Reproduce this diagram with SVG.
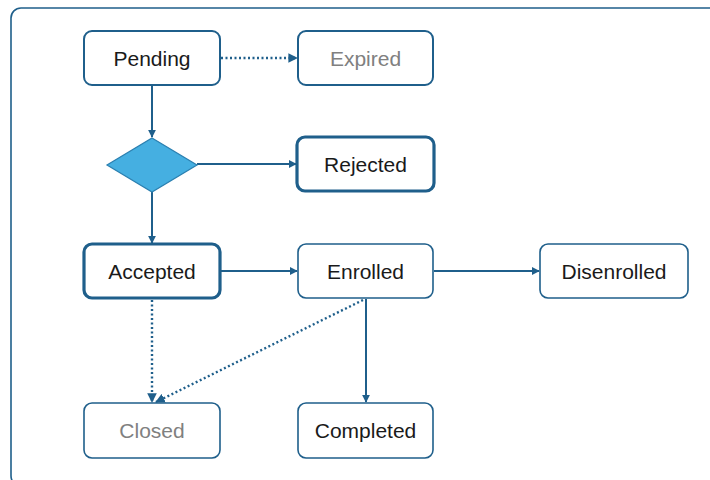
<svg xmlns="http://www.w3.org/2000/svg" width="710" height="480" viewBox="0 0 710 480">
<style>
.node{fill:#fff;stroke:#1f5f8b;stroke-width:2}
.thick{stroke-width:3.2}
.thin{stroke-width:1.6}
.lbl{font-family:"Liberation Sans",Arial,sans-serif;font-size:21px;fill:#1a1a1a;text-anchor:middle;dominant-baseline:central}
.gray{fill:#808080}
.c{fill:none;stroke:#1f5f8b;stroke-width:2}
.dot{stroke-dasharray:2 2.5;stroke-width:2.4}
</style>
<defs>
<marker id="ah" viewBox="0 0 10 10" refX="9" refY="5" markerWidth="4" markerHeight="4" orient="auto" markerUnits="strokeWidth">
<path d="M0,0 L10,5 L0,10 z" fill="#1f5f8b"/>
</marker>
</defs>
<rect x="11" y="8" width="740" height="478" rx="10" fill="none" stroke="#1f5f8b" stroke-width="1.6"/>
<g id="connectors">
<line class="c dot" x1="221" y1="58" x2="297" y2="58" marker-end="url(#ah)"/>
<line class="c" x1="152" y1="86" x2="152" y2="137" marker-end="url(#ah)"/>
<line class="c" x1="197" y1="164" x2="296" y2="164" marker-end="url(#ah)"/>
<line class="c" x1="152" y1="192" x2="152" y2="243" marker-end="url(#ah)"/>
<line class="c" x1="221" y1="271" x2="297" y2="271" marker-end="url(#ah)"/>
<line class="c" x1="434" y1="271" x2="539" y2="271" marker-end="url(#ah)"/>
<line class="c dot" x1="152" y1="300" x2="152" y2="402" marker-end="url(#ah)"/>
<line class="c dot" x1="363" y1="300" x2="156" y2="402" marker-end="url(#ah)"/>
<line class="c" x1="366" y1="299" x2="366" y2="402" marker-end="url(#ah)"/>
</g>
<g id="pending"><rect class="node" x="84" y="31" width="136" height="54" rx="8"/><text class="lbl" x="152" y="58">Pending</text></g>
<g id="expired"><rect class="node" x="298" y="31" width="135" height="54" rx="8"/><text class="lbl gray" x="365.5" y="58">Expired</text></g>
<g id="decision"><polygon points="152,138 197,165 152,192 107,165" fill="#45afe1" stroke="#2a7fb0" stroke-width="1.2"/></g>
<g id="rejected"><rect class="node thick" x="297" y="137" width="137" height="54" rx="8"/><text class="lbl" x="365.5" y="164">Rejected</text></g>
<g id="accepted"><rect class="node thick" x="84" y="244" width="136" height="54" rx="8"/><text class="lbl" x="152" y="271">Accepted</text></g>
<g id="enrolled"><rect class="node thin" x="298" y="244" width="135" height="54" rx="8"/><text class="lbl" x="365.5" y="271">Enrolled</text></g>
<g id="disenrolled"><rect class="node thin" x="540" y="244" width="148" height="54" rx="8"/><text class="lbl" x="614" y="271">Disenrolled</text></g>
<g id="closed"><rect class="node thin" x="84" y="403" width="136" height="55" rx="8"/><text class="lbl gray" x="152" y="430.5">Closed</text></g>
<g id="completed"><rect class="node thin" x="298" y="403" width="135" height="55" rx="8"/><text class="lbl" x="365.5" y="430.5">Completed</text></g>
</svg>
